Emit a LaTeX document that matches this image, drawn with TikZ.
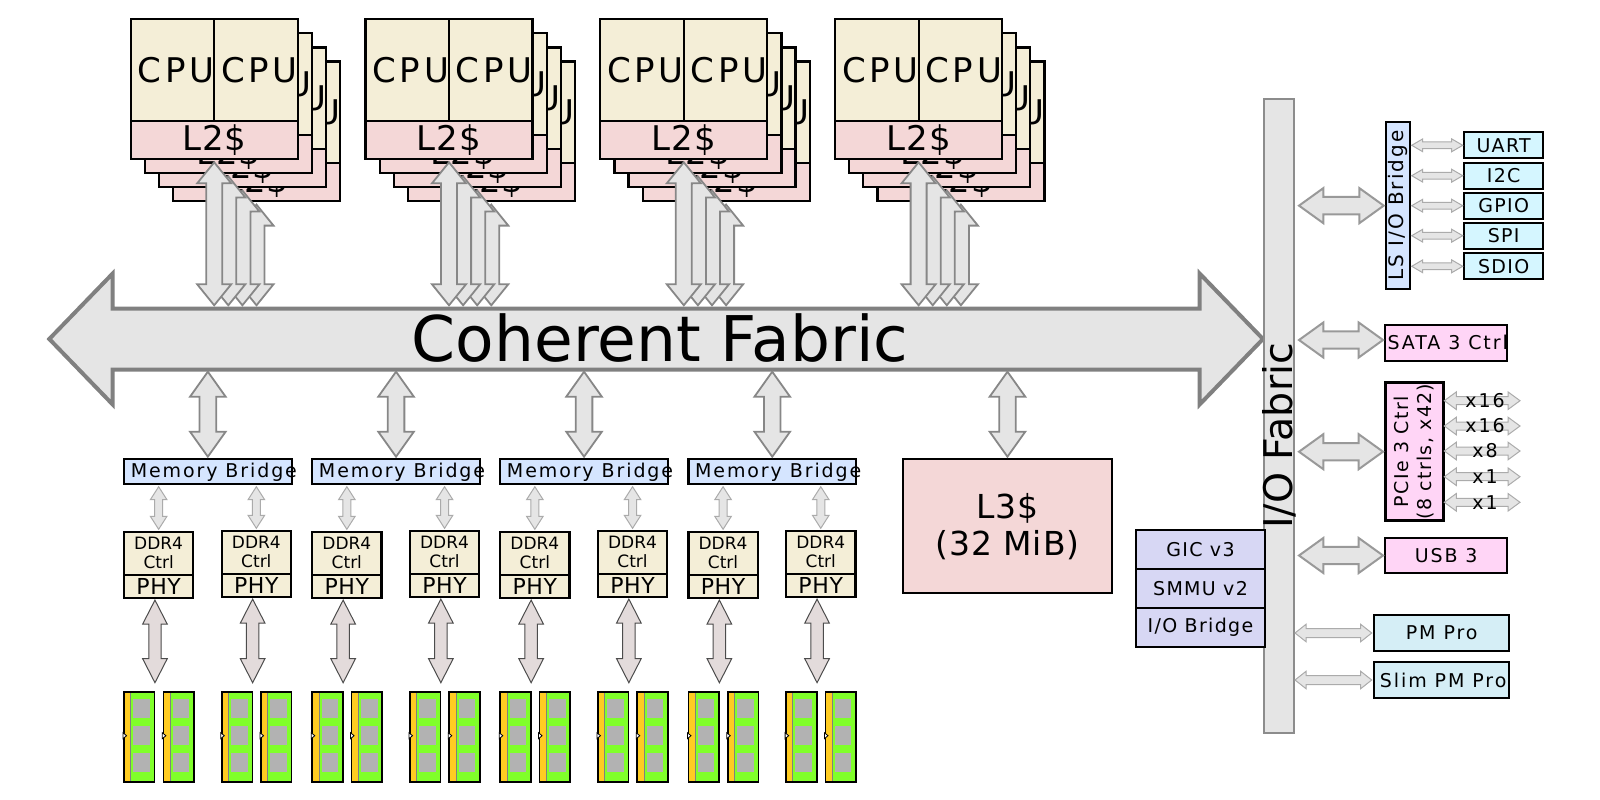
\documentclass[tikz,border=0pt]{standalone}
\usepackage{fontspec}
\setmainfont{DejaVu Sans}
\newfontfamily\spacedfont[LetterSpace=7]{DejaVu Sans}
\newfontfamily\widefont[LetterSpace=10]{DejaVu Sans}
\newfontfamily\corefont[LetterSpace=11]{DejaVu Sans}
\newfontfamily\tightfont[LetterSpace=3]{DejaVu Sans}
\usetikzlibrary{calc,positioning}
\definecolor{corecol}{HTML}{F4EED7}
\definecolor{cachecol}{HTML}{F4D7D7}
\definecolor{bridgecol}{HTML}{D5E5FF}
\definecolor{lowiocol}{HTML}{D5F6FF}
\definecolor{pinkcol}{HTML}{FFD5F6}
\definecolor{pmcol}{HTML}{D5EEF6}
\definecolor{gicol}{HTML}{D7D7F4}
\definecolor{buscol}{HTML}{E5E5E5}
\definecolor{memarrow}{HTML}{E3DBDB}
\definecolor{dimmgreen}{HTML}{80FF2A}
\definecolor{dimmgold}{HTML}{FFCC22}
\newcommand{\sizeit}[2]{\fontsize{#1}{#2}\selectfont}
\newcommand{\shifted}[2]{\makebox[0pt]{\hspace{#1}#2}}

\begin{document}
\begin{tikzpicture}[
    x=1pt, y=-1pt,
    box/.style={rectangle, draw=black, line width=2.2pt, inner sep=0pt, outer sep=0pt, anchor=north west, font=\spacedfont\sizeit{19}{23}},
    corebox/.style={box, fill=corecol, minimum width=83.5pt, minimum height=101.7pt, font=\corefont\sizeit{34}{37}},
    cachebox/.style={box, fill=cachecol, minimum width=167pt, minimum height=38pt, font=\tightfont\sizeit{34}{37}},
    membridge/.style={box, fill=bridgecol, minimum width=167.7pt, minimum height=25pt, font=\widefont\sizeit{19}{23}},
    ddrbox/.style={box, fill=corecol, minimum width=69.3pt, minimum height=43.3pt, align=center, font=\sizeit{17}{19}},
    phybox/.style={box, fill=corecol, minimum width=69.3pt, minimum height=22.7pt, font=\tightfont\sizeit{22}{23}},
    dimmbody/.style={rectangle, draw=black, line width=1.6pt, fill=dimmgreen, inner sep=0pt, outer sep=0pt, anchor=north west, minimum width=30.6pt, minimum height=90pt},
    chip/.style={fill=black!30, draw=none},
    lowio/.style={box, fill=lowiocol, minimum width=78.7pt, minimum height=26pt},
    pinkbox/.style={box, fill=pinkcol, minimum width=122.3pt, minimum height=35.6pt, font=\widefont\sizeit{19}{23}},
    pmbox/.style={box, fill=pmcol, minimum width=135.3pt, minimum height=36pt, font=\widefont\sizeit{19}{23}},
    gicbox/.style={box, fill=gicol, minimum width=129pt, minimum height=39.1pt},
    dblv/.style n args={3}{to path={let \p1=(\tikztostart), \p2=(\tikztotarget) in
        (\x1,\y1) -- (\x1+#2pt,\y1-#3pt) -- (\x1+#1pt,\y1-#3pt) -- (\x1+#1pt,\y2+#3pt) -- (\x1+#2pt,\y2+#3pt) -- (\x1,\y2)
        -- (\x1-#2pt,\y2+#3pt) -- (\x1-#1pt,\y2+#3pt) -- (\x1-#1pt,\y1-#3pt) -- (\x1-#2pt,\y1-#3pt) -- cycle}},
    dblh/.style n args={3}{to path={let \p1=(\tikztostart), \p2=(\tikztotarget) in
        (\x1,\y1) -- (\x1+#3pt,\y1+#2pt) -- (\x1+#3pt,\y1+#1pt) -- (\x2-#3pt,\y1+#1pt) -- (\x2-#3pt,\y1+#2pt) -- (\x2,\y1)
        -- (\x2-#3pt,\y1-#2pt) -- (\x2-#3pt,\y1-#1pt) -- (\x1+#3pt,\y1-#1pt) -- (\x1+#3pt,\y1-#2pt) -- cycle}},
    bus/.style={draw=black!47, fill=buscol, line width=1.8pt, miter limit=10},
    thinbus/.style={draw=black!33, fill=buscol, line width=1pt},
    clusterarrow/.style={bus, dblv={8}{17}{21}},
    bridgearrow/.style={bus, dblv={8.3}{17.8}{25}},
    ctrlarrow/.style={thinbus, dblv={4}{8.3}{13}},
    dimmarrow/.style={draw=black!70, fill=memarrow, line width=1pt, dblv={6.2}{12.3}{24}},
    fabarrow/.style={draw=black!50, fill=buscol, line width=4pt, dblh={30.5}{65.5}{63.4}},
    ioarrow/.style={draw=black!40, fill=buscol, line width=2pt, dblh={8.7}{17.5}{24.3}},
    lowarrow/.style={thinbus, dblh={3.4}{6.4}{11}},
    lanearrow/.style={thinbus, dblh={4}{8.8}{12}},
    pmarrow/.style={thinbus, dblh={4.5}{8.7}{11}}
]

% CPU clusters, back layer first
\foreach \blk/\bx in {a/130.7,b/365.5,c/600.3,d/835.1} {
    \foreach \lay/\off in {3/42.3,2/28.2,1/14.1,0/0} {
        \node[corebox] (cpuL\blk\lay) at ({\bx+\off},{19.3+\off}) {\shifted{7pt}{CPU}};
        \node[corebox] (cpuR\blk\lay) at (cpuL\blk\lay.north east) {\shifted{7pt}{CPU}};
        \node[cachebox] (ltwo\blk\lay) at (cpuL\blk\lay.south west) {L2\$};
    }
}

% Coherent fabric
\coordinate (fabstart) at (49.3,339);
\coordinate (fabend) at (1263,339);
\draw[fabarrow] (fabstart) to (fabend);
\node[minimum width=1087pt, minimum height=60pt, inner sep=0pt, outer sep=0pt, font=\sizeit{63}{70}] (fabric) at (660,338.3) {Coherent Fabric};

% Arrows from the clusters, right one behind
\foreach \blk in {a,b,c,d} {
    \foreach \lay in {3,2,1,0} {
        \draw[clusterarrow] ([yshift=-3.3pt]ltwo\blk\lay.south) to ([yshift=3pt]fabric.north);
    }
}

% Memory channels
\foreach \grp/\gx in {a/124,b/312.2,c/500.2,d/688.4} {
    \node[membridge] (mbr\grp) at (\gx,459.3) {\shifted{12pt}{Memory Bridge}};
    \draw[bridgearrow] ([yshift=-3.4pt]fabric.south -| mbr\grp.north) to ([yshift=2.6pt]mbr\grp.north);
    \foreach \side/\sx/\sy in {l/0/531.7,r/97.7/530.7} {
        \node[ddrbox] (ddr\grp\side) at ({\gx+\sx},\sy) {DDR4\\Ctrl};
        \node[phybox] (phy\grp\side) at (ddr\grp\side.south west) {PHY};
        \draw[ctrlarrow] ([yshift=-2.4pt]mbr\grp.south -| ddr\grp\side.north) to ([yshift=2.4pt]ddr\grp\side.north);
        \foreach \dm/\dx in {a/0,b/39.3} {
            \node[dimmbody] (dimm\grp\side\dm) at ({\gx+\sx+\dx},691.7) {};
            \fill[dimmgold] (dimm\grp\side\dm.north west) rectangle ++(6.7,90);
            \draw[black!50, line width=0.8pt] ({\gx+\sx+\dx+6.7},691.7) -- ++(0,90);
            \foreach \cy in {699.3,726,753.3} {
                \fill[chip] ({\gx+\sx+\dx+9.3},\cy) rectangle ++(16.7,18.5);
            }
            \draw[line width=1.6pt] (dimm\grp\side\dm.north west) rectangle (dimm\grp\side\dm.south east);
            \filldraw[fill=white, draw=black, line width=0.8pt] ({\gx+\sx+\dx-1},732.7) -- ++(3.6,3) -- ++(-3.6,3) -- cycle;
        }
        \draw[dimmarrow] ([xshift=-3.7pt,yshift=-2.4pt]phy\grp\side.south) to ([yshift=9pt]dimm\grp\side a.north);
    }
}

% L3 cache
\node[box, fill=cachecol, minimum width=209.7pt, minimum height=134pt, align=center, font=\tightfont\sizeit{33}{37}] (lthree) at (902.6,459.3) {L3\$\\(32 MiB)};
\draw[bridgearrow] ([yshift=-3.4pt]fabric.south -| lthree.north) to ([yshift=2.6pt]lthree.north);

% I/O fabric
\node[rectangle, draw=black!45, fill=buscol, line width=1.8pt, anchor=north west, inner sep=0pt, outer sep=0pt, minimum width=29.7pt, minimum height=634pt] (iofab) at (1264.3,99.3) {};
\node[rotate=90, font=\sizeit{39.5}{40}, inner sep=0pt] (iotext) at (1279,436) {I/O Fabric};

\node[gicbox] (gic) at (1136,530) {GIC v3};
\node[gicbox] (smmu) at (gic.south west) {SMMU v2};
\node[gicbox] (iobr) at (smmu.south west) {I/O Bridge};

% Low speed I/O
\node[box, fill=bridgecol, minimum width=24.6pt, minimum height=166.7pt] (lsbr) at (1385.7,122.3) {};
\node[rotate=90, font=\widefont\sizeit{20}{23}, inner sep=0pt] (lstext) at (lsbr) {LS I/O Bridge};
\draw[ioarrow] ([xshift=5pt]iofab.east |- lsbr.west) to ([xshift=-2pt]lsbr.west);
\foreach \nm/\ytop in {UART/132.3,I2C/162.7,GPIO/192.7,SPI/222.7,SDIO/253.3} {
    \node[lowio] (io\nm) at (1464.3,\ytop) {\nm};
    \draw[lowarrow] ([xshift=1.4pt]lsbr.east |- io\nm.west) to ([xshift=-1.6pt]io\nm.west);
}

% SATA and USB
\node[pinkbox] (sata) at (1385,325) {\shifted{3pt}{SATA 3 Ctrl}};
\coordinate (sataport) at (1299,340);
\draw[ioarrow] (sataport) to ([xshift=-2pt]sata.west);
\node[pinkbox] (usb) at (1385,537.7) {USB 3};
\draw[ioarrow] ([xshift=5pt]iofab.east |- usb.west) to ([xshift=-2pt]usb.west);

% PCIe
\node[box, fill=pinkcol, line width=3pt, minimum width=58.3pt, minimum height=138pt] (pcie) at (1385,382.7) {};
\node[rotate=90, align=center, font=\spacedfont\sizeit{19}{23}, inner sep=0pt] (pcietext) at (pcie) {PCIe 3 Ctrl\\(8 ctrls, x42)};
\draw[ioarrow] ([xshift=5pt]iofab.east |- pcie.west) to ([xshift=-2pt]pcie.west);
\foreach \lane/\lanewd/\ly in {a/x16/400.7,b/x16/426,c/x8/451,d/x1/476.7,e/x1/502.3} {
    \coordinate (laneend\lane) at (1520,\ly);
    \draw[lanearrow] ([xshift=1pt]pcie.east |- laneend\lane) to (laneend\lane);
    \node[font=\widefont\sizeit{19}{23}, inner sep=0pt] (lane\lane) at (1485,\ly) {\lanewd};
}

% Power management
\node[pmbox] (pm) at (1374,615) {PM Pro};
\node[pmbox] (slim) at (1374,662) {\shifted{3pt}{Slim PM Pro}};
\draw[pmarrow] ([xshift=1pt]iofab.east |- pm.west) to ([xshift=-2.3pt]pm.west);
\draw[pmarrow] ([xshift=1pt]iofab.east |- slim.west) to ([xshift=-2.3pt]slim.west);

\useasboundingbox (0,0) rectangle (1600,800);
\end{tikzpicture}
\end{document}
